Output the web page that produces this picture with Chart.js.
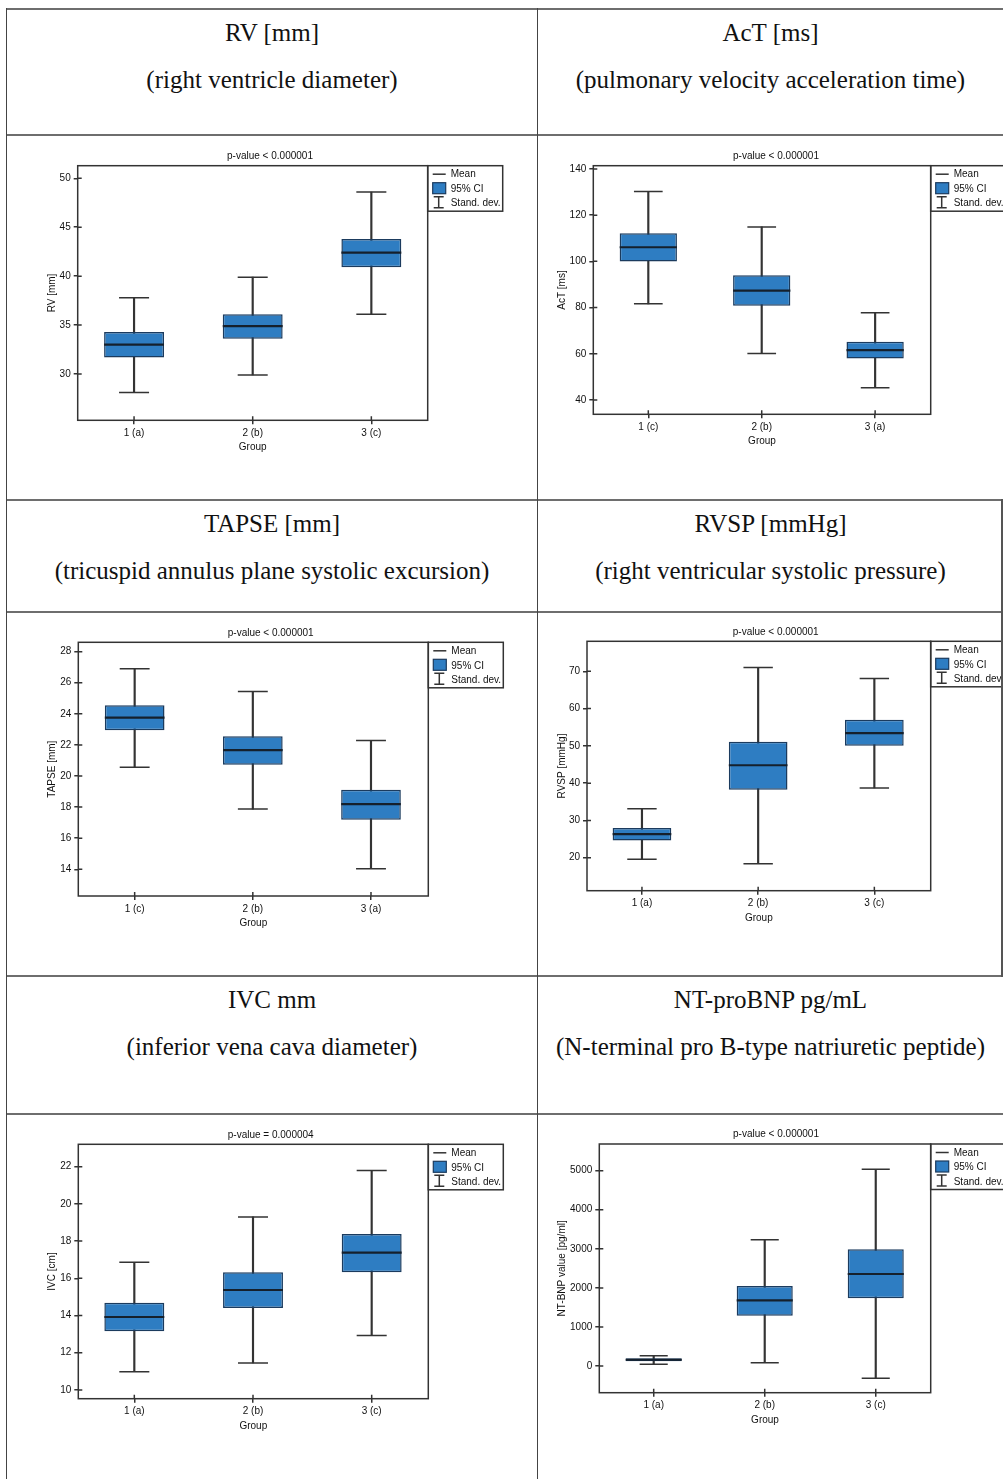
<!DOCTYPE html>
<html>
<head>
<meta charset="utf-8">
<script src="https://cdn.jsdelivr.net/npm/chart.js@4.4.1/dist/chart.umd.min.js"></script>
<style>
  html, body { margin: 0; padding: 0; background: #fff; overflow: hidden; }
  #page { position: relative; width: 1003px; height: 1479px; }
  .ln { position: absolute; }
  .hd { position: absolute; width: 600px; font-family: "Liberation Serif", "Times New Roman", serif;
        font-size: 25px; line-height: 30px; text-align: center; color: #111; white-space: nowrap; }
  canvas { position: absolute; }
</style>
</head>
<body>
<div id="page"></div>
<script>
// values
const rvGroups = ['1 (a)', '2 (b)', '3 (c)'];
const rvMean = [33.0, 34.9, 42.4];
const rvCiLow = [31.7, 33.6, 40.9];
const rvCiHigh = [34.3, 36.1, 43.8];
const rvSdLow = [28.1, 29.9, 36.1];
const rvSdHigh = [37.8, 39.9, 48.6];
const rvTicks = [30, 35, 40, 45, 50];

const actGroups = ['1 (c)', '2 (b)', '3 (a)'];
const actMean = [106.1, 87.3, 61.6];
const actCiLow = [99.9, 80.8, 57.9];
const actCiHigh = [112.2, 94.0, 65.2];
const actSdLow = [81.6, 60.1, 45.3];
const actSdHigh = [130.2, 114.9, 77.8];
const actTicks = [40, 60, 80, 100, 120, 140];

const tapseGroups = ['1 (c)', '2 (b)', '3 (a)'];
const tapseMean = [23.76, 21.66, 18.19];
const tapseCiLow = [22.95, 20.73, 17.18];
const tapseCiHigh = [24.55, 22.56, 19.11];
const tapseSdLow = [20.57, 17.87, 14.04];
const tapseSdHigh = [26.9, 25.43, 22.28];
const tapseTicks = [14, 16, 18, 20, 22, 24, 26, 28];

const rvspGroups = ['1 (a)', '2 (b)', '3 (c)'];
const rvspMean = [26.3, 44.8, 53.4];
const rvspCiLow = [24.6, 38.2, 50.0];
const rvspCiHigh = [28.0, 51.1, 57.0];
const rvspSdLow = [19.6, 18.4, 38.7];
const rvspSdHigh = [33.1, 71.0, 68.1];
const rvspTicks = [20, 30, 40, 50, 60, 70];

const ivcGroups = ['1 (a)', '2 (b)', '3 (c)'];
const ivcMean = [13.92, 15.37, 17.38];
const ivcCiLow = [13.15, 14.41, 16.32];
const ivcCiHigh = [14.68, 16.32, 18.38];
const ivcSdLow = [10.98, 11.45, 12.92];
const ivcSdHigh = [16.86, 19.3, 21.79];
const ivcTicks = [10, 12, 14, 16, 18, 20, 22];

const bnpGroups = ['1 (a)', '2 (b)', '3 (c)'];
const bnpMean = [161, 1681, 2355];
const bnpCiLow = [125, 1288, 1733];
const bnpCiHigh = [200, 2048, 2987];
const bnpSdLow = [43, 84, -315];
const bnpSdHigh = [264, 3233, 5034];
const bnpTicks = [0, 1000, 2000, 3000, 4000, 5000];

const legendLabels = ['Mean', '95% CI', 'Stand. dev.'];

const panels = [
  { head: ['RV [mm]', '(right ventricle diameter)'], p: 'p-value < 0.000001', yTitle: 'RV [mm]',
    groups: rvGroups, mean: rvMean, ciLow: rvCiLow, ciHigh: rvCiHigh, sdLow: rvSdLow, sdHigh: rvSdHigh, ticks: rvTicks,
    yMin: 25.27, yMax: 51.29, xMin: 0.525, xMax: 3.475 },
  { head: ['AcT [ms]', '(pulmonary velocity acceleration time)'], p: 'p-value < 0.000001', yTitle: 'AcT [ms]',
    groups: actGroups, mean: actMean, ciLow: actCiLow, ciHigh: actCiHigh, sdLow: actSdLow, sdHigh: actSdHigh, ticks: actTicks,
    yMin: 33.8, yMax: 141.4, xMin: 0.515, xMax: 3.49 },
  { head: ['TAPSE [mm]', '(tricuspid annulus plane systolic excursion)'], p: 'p-value < 0.000001', yTitle: 'TAPSE [mm]',
    groups: tapseGroups, mean: tapseMean, ciLow: tapseCiLow, ciHigh: tapseCiHigh, sdLow: tapseSdLow, sdHigh: tapseSdHigh, ticks: tapseTicks,
    yMin: 12.28, yMax: 28.6, xMin: 0.523, xMax: 3.485 },
  { head: ['RVSP [mmHg]', '(right ventricular systolic pressure)'], p: 'p-value < 0.000001', yTitle: 'RVSP [mmHg]',
    groups: rvspGroups, mean: rvspMean, ciLow: rvspCiLow, ciHigh: rvspCiHigh, sdLow: rvspSdLow, sdHigh: rvspSdHigh, ticks: rvspTicks,
    yMin: 11.15, yMax: 78.05, xMin: 0.527, xMax: 3.485 },
  { head: ['IVC mm', '(inferior vena cava diameter)'], p: 'p-value = 0.000004', yTitle: 'IVC [cm]',
    groups: ivcGroups, mean: ivcMean, ciLow: ivcCiLow, ciHigh: ivcCiHigh, sdLow: ivcSdLow, sdHigh: ivcSdHigh, ticks: ivcTicks,
    yMin: 9.53, yMax: 23.2, xMin: 0.528, xMax: 3.477 },
  { head: ['NT-proBNP pg/mL', '(N-terminal pro B-type natriuretic peptide)'], p: 'p-value < 0.000001', yTitle: 'NT-BNP value [pg/ml]',
    groups: bnpGroups, mean: bnpMean, ciLow: bnpCiLow, ciHigh: bnpCiHigh, sdLow: bnpSdLow, sdHigh: bnpSdHigh, ticks: bnpTicks,
    yMin: -683, yMax: 5683, xMin: 0.51, xMax: 3.495 }
];

// where each plot box sits on the page
const layout = [
  { l: 77.7, t: 165.7, r: 427.7, b: 420.3, yTitleX: 51.7, titleX: 270 },
  { l: 593.3, t: 165.7, r: 930.7, b: 414.3, yTitleX: 561.7, titleX: 776 },
  { l: 78.3, t: 642.3, r: 428.3, b: 896, yTitleX: 51.7, titleX: 270.7 },
  { l: 587, t: 641.3, r: 930.7, b: 890.7, yTitleX: 561.7, titleX: 775.7 },
  { l: 78.3, t: 1144.3, r: 428.3, b: 1398.7, yTitleX: 51.7, titleX: 270.7 },
  { l: 599.3, t: 1144, r: 930.7, b: 1392.7, yTitleX: 561.7, titleX: 776 }
];
const rowTops = [9, 500, 976];
const cellCenters = [272, 770.5];

const boxFill = '#2e7dc2';
const boxEdge = '#1b3b5e';
const ink = '#333';

Chart.defaults.font.family = '"Liberation Sans", Arial, sans-serif';
Chart.defaults.font.size = 10;
Chart.defaults.color = '#111';

const page = document.getElementById('page');

// frame, inner tick stubs and the boxed legend
const boxLegend = {
  id: 'boxLegend',
  afterDraw(chart, args, opts) {
    const { ctx, chartArea: a, scales: { x, y } } = chart;
    ctx.save();
    ctx.lineWidth = 1.5;
    ctx.strokeStyle = ink;
    ctx.strokeRect(a.left, a.top, a.right - a.left, a.bottom - a.top);
    ctx.beginPath();
    y.ticks.forEach(t => { const py = y.getPixelForValue(t.value); ctx.moveTo(a.left, py); ctx.lineTo(a.left + 4, py); });
    x.ticks.forEach(t => { const px = x.getPixelForValue(t.value); ctx.moveTo(px, a.bottom); ctx.lineTo(px, a.bottom - 4); });
    ctx.stroke();

    const lx = a.right, ly = a.top;
    ctx.strokeRect(lx, ly, 75, 45.5);
    ctx.beginPath();
    ctx.moveTo(lx + 5, ly + 8.5); ctx.lineTo(lx + 18, ly + 8.5);
    ctx.stroke();
    ctx.fillStyle = boxFill;
    ctx.fillRect(lx + 5, ly + 17, 13, 11);
    ctx.strokeStyle = boxEdge; ctx.lineWidth = 1.2;
    ctx.strokeRect(lx + 5, ly + 17, 13, 11);
    ctx.strokeStyle = ink; ctx.lineWidth = 1.5;
    ctx.beginPath();
    ctx.moveTo(lx + 11, ly + 31); ctx.lineTo(lx + 11, ly + 42);
    ctx.moveTo(lx + 6, ly + 31); ctx.lineTo(lx + 16, ly + 31);
    ctx.moveTo(lx + 6, ly + 42); ctx.lineTo(lx + 16, ly + 42);
    ctx.stroke();
    ctx.fillStyle = '#111';
    ctx.font = '10px "Liberation Sans", Arial, sans-serif';
    ctx.textBaseline = 'middle';
    opts.labels.forEach((t, i) => ctx.fillText(t, lx + 23, ly + 9 + i * 14.5));
    ctx.restore();
  }
};

function makeChart(p, g) {
  const spacing = (g.r - g.l) / (p.xMax - p.xMin);
  const left = Math.round(g.yTitleX - 10);
  const top = Math.round(g.t - 19.5);
  const yW = g.l - left;
  const w2 = 2 * g.titleX - left - g.r;
  const right = Math.min(1003, Math.round(g.r + 77));
  const W = right - left;
  const H = Math.round(g.b + 37 - top);
  const xH = top + H - g.b;
  const padR = W - yW - (g.r - g.l) - w2;

  const cv = document.createElement('canvas');
  cv.width = W; cv.height = H;
  cv.style.left = left + 'px'; cv.style.top = top + 'px';
  page.appendChild(cv);

  const idx = p.groups.map((_, i) => i + 1);
  new Chart(cv, {
    type: 'bar',
    data: {
      datasets: [
        { type: 'scatter', label: 'Mean', order: 0,
          data: idx.map((x, i) => ({ x, y: p.mean[i] })),
          pointStyle: 'line', pointRadius: spacing * 0.2525, pointBorderWidth: 2.2,
          pointBorderColor: '#15202c', pointBackgroundColor: '#15202c' },
        { type: 'bar', label: '95% CI', order: 1,
          data: idx.map((x, i) => ({ x, y: [p.ciLow[i], p.ciHigh[i]] })),
          backgroundColor: boxFill, borderColor: boxEdge, borderWidth: 1.5, borderSkipped: false,
          grouped: false, categoryPercentage: 1, barPercentage: 0.505 },
        { type: 'scatter', label: 'SD ends', order: 2,
          data: idx.map((x, i) => ({ x, y: p.sdLow[i] })).concat(idx.map((x, i) => ({ x, y: p.sdHigh[i] }))),
          pointStyle: 'line', pointRadius: spacing * 0.1265, pointBorderWidth: 1.5,
          pointBorderColor: ink, pointBackgroundColor: ink },
        { type: 'bar', label: 'Stand. dev.', order: 3,
          data: idx.map((x, i) => ({ x, y: [p.sdLow[i], p.sdHigh[i]] })),
          backgroundColor: ink, borderWidth: 0, grouped: false, barThickness: 1.5 }
      ]
    },
    options: {
      responsive: false,
      animation: false,
      events: [],
      layout: { autoPadding: false, padding: { left: 0, top: 0, bottom: 0, right: padR } },
      plugins: {
        legend: { display: false },
        tooltip: { enabled: false },
        title: { display: true, text: p.p, color: '#111', font: { size: 10, weight: 'normal' },
                 padding: { top: g.t - top - 15.5, bottom: 3.5 } },
        boxLegend: { labels: legendLabels }
      },
      scales: {
        x: {
          type: 'linear', min: p.xMin, max: p.xMax, offset: false,
          afterBuildTicks: s => { s.ticks = idx.map(v => ({ value: v })); },
          afterFit: s => { s.height = xH; },
          ticks: { callback: (v, i) => p.groups[i], padding: 3, maxRotation: 0, autoSkip: false, color: '#111' },
          grid: { offset: false, drawOnChartArea: false, drawTicks: true, tickLength: 4, color: ink, lineWidth: 1.5 },
          border: { display: false },
          title: { display: true, text: 'Group', color: '#111', padding: { top: 4, bottom: 4 } }
        },
        y: {
          type: 'linear', min: p.yMin, max: p.yMax,
          afterBuildTicks: s => { s.ticks = p.ticks.map(v => ({ value: v })); },
          afterFit: s => { s.width = yW; },
          ticks: { callback: v => String(v), padding: 3, color: '#111' },
          grid: { drawOnChartArea: false, drawTicks: true, tickLength: 4, color: ink, lineWidth: 1.5 },
          border: { display: false },
          title: { display: true, text: p.yTitle, color: '#111', padding: { top: 4, bottom: 4 } }
        },
        y2: {
          type: 'linear', position: 'right', display: true,
          afterFit: s => { s.width = w2; },
          ticks: { display: false }, grid: { display: false }, border: { display: false }
        }
      }
    },
    plugins: [boxLegend]
  });
}

panels.forEach((p, i) => makeChart(p, layout[i]));

// header cells
panels.forEach((p, i) => {
  const cx = cellCenters[i % 2];
  const rt = rowTops[Math.floor(i / 2)];
  p.head.forEach((txt, k) => {
    const d = document.createElement('div');
    d.className = 'hd';
    d.textContent = txt;
    d.style.left = (cx - 300) + 'px';
    d.style.top = (rt + 26 + k * 47 - 17.5) + 'px';
    page.appendChild(d);
  });
});

// table rules
function rule(x, y, w, h, c) {
  const d = document.createElement('div');
  d.className = 'ln';
  d.style.left = x + 'px'; d.style.top = y + 'px';
  d.style.width = w + 'px'; d.style.height = h + 'px';
  d.style.background = c;
  page.appendChild(d);
}
[9, 135, 500, 612, 976, 1114].forEach(y => rule(6, y - 1, 997, 2, '#6e6e6e'));
rule(5.5, 8, 1.6, 1471, '#444');
rule(536.8, 8, 1.6, 1471, '#444');
rule(1001.4, 499, 1.6, 478, '#555');
</script>
</body>
</html>
